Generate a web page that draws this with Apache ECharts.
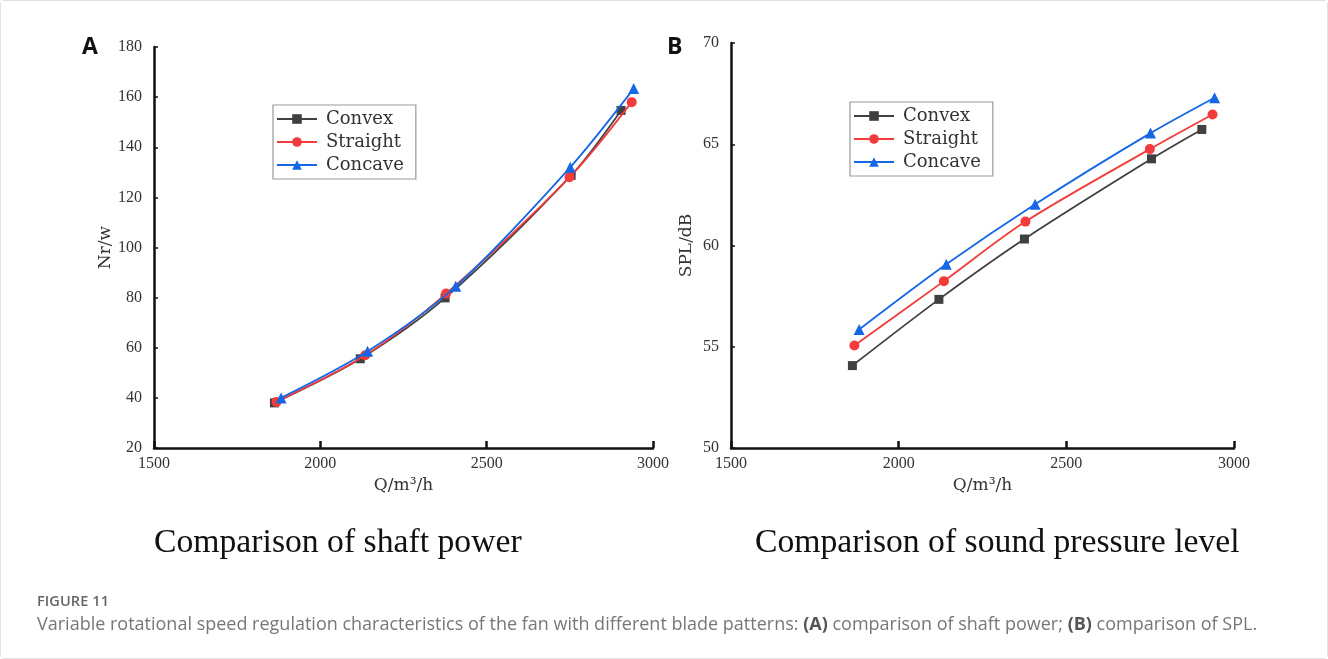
<!DOCTYPE html>
<html>
<head>
<meta charset="utf-8">
<script src="https://cdn.jsdelivr.net/npm/echarts@6/dist/echarts.min.js"></script>
<style>
  html, body { margin: 0; padding: 0; background: #fff; }
  #wrap { position: relative; width: 1326px; height: 657px; border: 1px solid #e2e2e2; border-radius: 4px; }
  #chart { position: absolute; left: 0; top: 0; width: 1326px; height: 657px; }
  .cap { position: absolute; left: 36px; font-family: "Open Sans", "Noto Sans", sans-serif; color: #777; white-space: nowrap; }
  #fig { top: 590px; font-size: 14.5px; font-weight: 600; color: #666; letter-spacing: 0.1px; }
  #txt { top: 610px; font-size: 18px; }
  #txt b { color: #555; font-weight: 700; }
</style>
</head>
<body>
<div id="wrap">
  <div id="chart"></div>
  <div class="cap" id="fig">FIGURE 11</div>
  <div class="cap" id="txt">Variable rotational speed regulation characteristics of the fan with different blade patterns: <b>(A)</b> comparison of shaft power; <b>(B)</b> comparison of SPL.</div>
</div>
<script>
// flow rate Q (m3/h) per blade pattern
const qConvex = [1862, 2120, 2375, 2754, 2904];
const qStraight = [1868, 2135, 2378, 2749, 2936];
const qConcave = [1882, 2142, 2407, 2751, 2942];
// shaft power Nr (w)
const powerConvex = [38.0, 55.6, 79.9, 128.8, 154.7];
const powerStraight = [38.4, 57.0, 81.6, 128.0, 158.0];
const powerConcave = [40.0, 58.6, 84.5, 132.0, 163.4];
// sound pressure level (dB)
const splConvex = [54.07, 57.34, 60.32, 64.28, 65.73];
const splStraight = [55.06, 58.24, 61.18, 64.76, 66.47];
const splConcave = [55.85, 59.07, 62.04, 65.55, 67.30];

const names = ["Convex", "Straight", "Concave"];
const colors = ["#404040", "#f23b3b", "#1667e6"];
const symbols = ["rect", "circle", "triangle"];
const symSizes = [9, 10, 11];

function pairs(xs, ys) {
  return xs.map((x, i) => [x, ys[i]]);
}

const serif = "Liberation Serif";
const sim = "DejaVu Serif";

function xAxisOf(idx) {
  return {
    gridIndex: idx, type: "value", min: 1500, max: 3000, interval: 500,
    name: "Q/m\u00b3/h", nameLocation: "middle", nameGap: 17,
    nameTextStyle: { fontFamily: sim, fontSize: 17, color: "#333" },
    axisLine: { lineStyle: { color: "#111", width: 2.5 } },
    axisTick: { inside: true, length: 7, lineStyle: { color: "#111", width: 2.5 } },
    axisLabel: { fontFamily: serif, fontSize: 16, color: "#333", margin: 8, formatter: (v) => String(v) },
    splitLine: { show: false }
  };
}
function yAxisOf(idx, min, max, interval, name, gap) {
  return {
    gridIndex: idx, type: "value", min: min, max: max, interval: interval,
    name: name, nameLocation: "middle", nameGap: gap, nameRotate: 90,
    nameTextStyle: { fontFamily: sim, fontSize: 17, color: "#333" },
    axisLine: { show: true, lineStyle: { color: "#111", width: 2.5 } },
    axisTick: { show: true, inside: true, length: 4, lineStyle: { color: "#111", width: 1.5 } },
    axisLabel: { fontFamily: serif, fontSize: 16, color: "#333", margin: 12 },
    splitLine: { show: false }
  };
}

const qs = [qConvex, qStraight, qConcave];
const powers = [powerConvex, powerStraight, powerConcave];
const spls = [splConvex, splStraight, splConcave];

const series = [];
[powers, spls].forEach((set, g) => {
  set.forEach((ys, i) => {
    series.push({
      name: names[i], type: "line", xAxisIndex: g, yAxisIndex: g,
      data: pairs(qs[i], ys), smooth: 0.3,
      symbol: symbols[i], symbolSize: symSizes[i],
      itemStyle: { color: colors[i] },
      lineStyle: { color: colors[i], width: 1.8 },
      z: 3 + i
    });
  });
});

function legendOf(left, top) {
  return {
    orient: "vertical", left: left, top: top, itemGap: 5, itemWidth: 40, itemHeight: 12,
    borderColor: "#999", borderWidth: 1.2, padding: [5, 12, 5, 3],
    textStyle: { fontFamily: sim, fontSize: 18, color: "#333", padding: [0, 0, 0, 4] },
    data: names, selectedMode: false
  };
}

const chart = echarts.init(document.getElementById("chart"));
chart.setOption({
  animation: false,
  backgroundColor: "#fff",
  grid: [
    { left: 153, top: 46, width: 499, height: 401 },
    { left: 730, top: 42, width: 503, height: 405 }
  ],
  xAxis: [xAxisOf(0), xAxisOf(1)],
  yAxis: [yAxisOf(0, 20, 180, 20, "Nr/w", 39), yAxisOf(1, 50, 70, 5, "SPL/dB", 36)],
  legend: [legendOf(272, 104), legendOf(849, 101)],
  series: series,
  graphic: [
    { type: "text", left: 81, top: 35, style: { text: "A", font: "bold 23px 'Open Sans', sans-serif", fill: "#111" } },
    { type: "text", left: 666, top: 35, style: { text: "B", font: "bold 23px 'Open Sans', sans-serif", fill: "#111" } },
    { type: "text", left: 153, top: 525, style: { text: "Comparison of shaft power", font: "33.7px 'Liberation Serif'", fill: "#111" } },
    { type: "text", left: 754, top: 525, style: { text: "Comparison of sound pressure level", font: "33.7px 'Liberation Serif'", fill: "#111" } }
  ]
});
</script>
</body>
</html>
